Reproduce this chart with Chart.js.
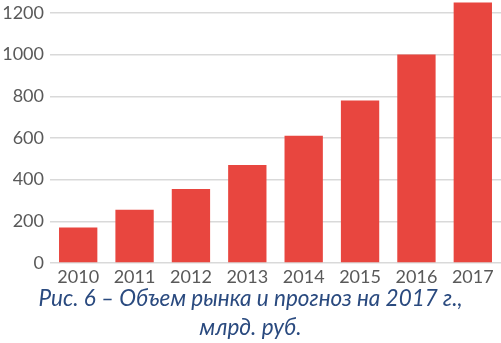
<!DOCTYPE html>
<html>
<head>
<meta charset="utf-8">
<script src="https://cdn.jsdelivr.net/npm/chart.js@4"></script>
<style>
  html, body { margin: 0; padding: 0; background: #fff; }
  #wrap { width: 501px; height: 343px; position: relative; }
</style>
</head>
<body>
<div id="wrap"><canvas id="chart"></canvas></div>
<script>
// data
const years = ["2010", "2011", "2012", "2013", "2014", "2015", "2016", "2017"]
const market_volume = [170, 255, 355, 470, 610, 780, 1000, 1250]
const y_ticks = [0, 200, 400, 600, 800, 1000, 1200]
const y_max = 1262
const caption = ["Рис. 6 – Объем рынка и прогноз на 2017 г.,", "млрд. руб."]

const canvas = document.querySelector("#chart")

new Chart(canvas, {
    type: "bar",
    data: {
        labels: years,
        datasets: [{
            data: market_volume,
            backgroundColor: "#e8463f",
            borderWidth: 0,
            categoryPercentage: 1,
            barPercentage: 0.68,
        }],
    },
    options: {
        responsive: true,
        maintainAspectRatio: false,
        animation: false,
        layout: {
            padding: { left: 0, right: 0, top: 0, bottom: 1 }
        },
        scales: {
            x: {
                afterFit: (axis) => {
                    axis.height = 21
                },
                grid: { display: false, drawTicks: false },
                border: { display: false },
                ticks: {
                    color: "#595959",
                    font: { family: "Lato", size: 18, lineHeight: 1 },
                    padding: 5,
                    maxRotation: 0,
                    autoSkip: false,
                },
            },
            y: {
                min: 0,
                max: y_max,
                // keep the top of the plot free, the last bar goes above 1200
                afterBuildTicks: (axis) => {
                    axis.ticks = y_ticks.concat([y_max]).map(v => ({ value: v }))
                },
                afterFit: (axis) => {
                    axis.width = 50
                    axis.paddingTop = 0
                    axis.paddingBottom = 0
                },
                grid: {
                    color: (ctx) => ctx.tick && ctx.tick.value == y_max ? "rgba(0,0,0,0)" : "#d9d9d9",
                    lineWidth: 1.5,
                    drawTicks: false,
                },
                border: { display: false },
                ticks: {
                    color: "#595959",
                    font: { family: "Lato", size: 18 },
                    padding: 6,
                    callback: (value) => value == y_max ? "" : String(value),
                },
            },
        },
        plugins: {
            legend: { display: false },
            tooltip: { enabled: false },
            title: {
                display: true,
                position: "bottom",
                text: caption,
                color: "#2a4a7f",
                font: { family: "Lato", size: 22.5, style: "italic", weight: "normal", lineHeight: 1.29 },
                padding: { top: 0, bottom: 0 },
            },
        },
    },
})
</script>
</body>
</html>
